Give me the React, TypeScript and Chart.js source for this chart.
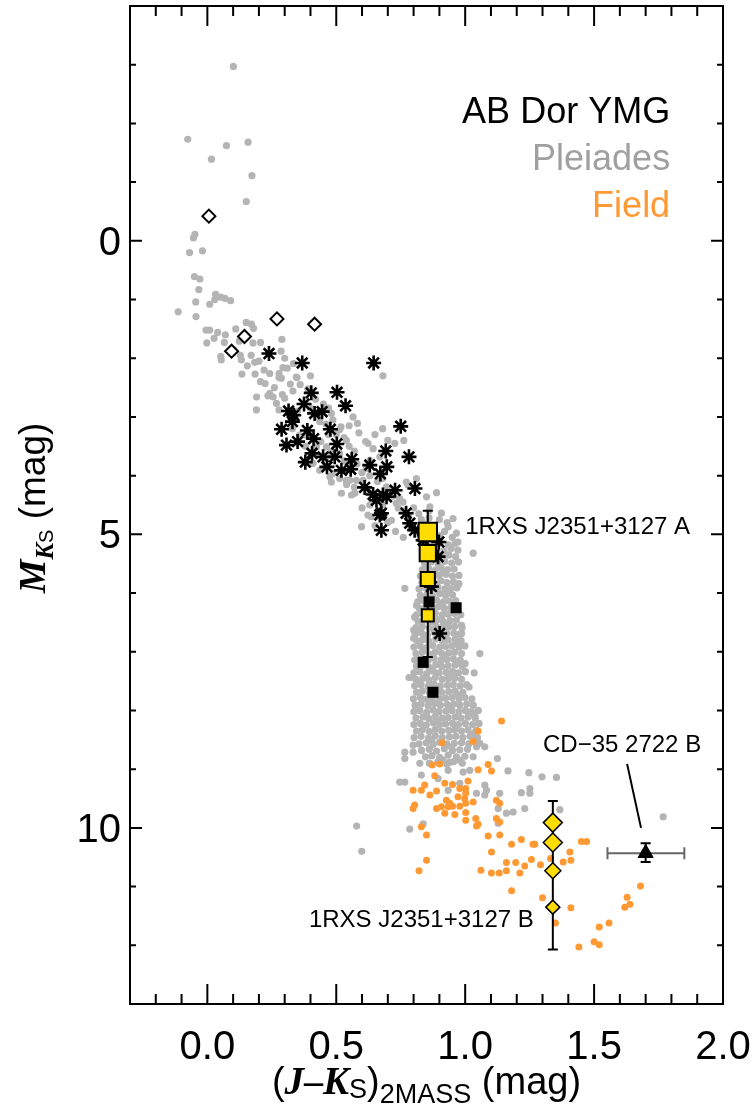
import React, { useEffect, useRef } from "react";
import { Chart, registerables } from "chart.js";

Chart.register(...registerables);

// ---- axes ----
const xRange = [-0.3, 2.0];
const yRange = [-4, 13];
const xMajor = [0, 0.5, 1.0, 1.5, 2.0];
const xMajorLabels = ["0.0", "0.5", "1.0", "1.5", "2.0"];
const xMinor = [-0.2, -0.1, 0.1, 0.2, 0.3, 0.4, 0.6, 0.7, 0.8, 0.9, 1.1, 1.2, 1.3, 1.4, 1.6, 1.7, 1.8, 1.9];
const yMajor = [0, 5, 10];
const yMajorLabels = ["0", "5", "10"];
const yMinor = [-3, -2, -1, 1, 2, 3, 4, 6, 7, 8, 9, 11, 12];

// ---- legend ----
const legendLabels = ["AB Dor YMG", "Pleiades", "Field"];
const legendColors = ["#000000", "#a0a0a0", "#ff9933"];
const legendMK = [-2.0, -1.2, -0.4];
const legendJK = 1.795;

// ---- Pleiades (J-Ks, M_Ks) ----
const pleiadesSparse: number[][] = [
  [0.101, -2.97], [-0.076, -1.73], [0.074, -1.62], [0.158, -1.68], [0.016, -1.39], [0.173, -1.11], [0.151, -0.67],
  [-0.048, -0.11], [-0.054, -0.05], [-0.069, 0.2], [-0.019, 0.17], [-0.05, 0.61], [-0.029, 0.65], [-0.033, 0.83],
  [-0.113, 1.21], [-0.045, 1.04], [-0.044, 1.29], [0.009, 1.08], [0.032, 0.91], [0.029, 1.0], [0.052, 0.96],
  [0.068, 0.98], [0.09, 1.02], [-0.005, 1.52], [0.009, 1.52], [0.04, 1.56], [0.026, 1.66], [-0.002, 1.74],
  [0.066, 1.73], [0.124, 1.71], [0.151, 1.39], [0.171, 1.42], [0.179, 1.49], [0.177, 1.74], [0.206, 1.73],
  [0.289, 1.68], [0.286, 1.88], [0.052, 1.97], [0.054, 2.03], [0.128, 1.95], [0.132, 2.03], [0.155, 2.13],
  [0.184, 2.07], [0.134, 2.27], [0.185, 2.27], [0.206, 2.4], [0.224, 2.43], [0.242, 2.26], [0.278, 2.26],
  [0.278, 2.33], [0.293, 2.16], [0.31, 2.17], [0.334, 2.09], [0.348, 2.33], [0.322, 2.44], [0.332, 2.56],
  [0.242, 2.6], [0.255, 2.66], [0.235, 2.64], [0.191, 2.66], [0.19, 2.88], [0.291, 2.62], [0.3, 2.68],
  [0.268, 2.77], [0.278, 2.88], [0.287, 2.34], [0.345, 2.32], [0.681, 2.3], [0.582, 3.11], [0.588, 3.27],
  [0.614, 3.42], [0.623, 3.45], [0.643, 3.54], [0.727, 3.45], [0.762, 3.4], [0.518, 3.17], [0.487, 3.05],
  [0.436, 3.08], [0.384, 3.31], [0.358, 3.31], [0.423, 3.51], [0.462, 3.51], [0.513, 3.62], [0.487, 3.96],
  [0.513, 4.05], [0.552, 4.08], [0.578, 4.08], [0.604, 4.08], [0.772, 4.11], [0.811, 4.05], [0.52, 4.3],
  [0.559, 4.33], [0.695, 4.19], [0.85, 4.36], [0.889, 4.29], [0.481, 2.94], [0.565, 3.0], [0.669, 3.68],
  [0.475, 4.02], [0.572, 4.3], [0.598, 4.87], [0.623, 4.67], [0.636, 4.7], [0.733, 4.47], [0.759, 4.45],
  [0.778, 4.16], [0.863, 4.53], [0.908, 4.64], [0.953, 4.73], [0.934, 4.87], [0.966, 4.98], [0.972, 5.13],
  [1.031, 5.32], [0.714, 4.76], [0.539, 4.08], [0.436, 3.91], [0.41, 3.79], [0.617, 3.88], [0.63, 3.74],
  [0.539, 3.4], [0.513, 3.22], [0.481, 4.11], [0.746, 4.39], [0.88, 4.95], [0.93, 4.8], [0.9, 5.02],
  [0.86, 4.6], [0.83, 4.75], [0.95, 5.05], [0.766, 5.92], [0.811, 6.21], [0.804, 6.41], [0.986, 6.69],
  [1.057, 7.03], [1.035, 7.36], [0.782, 7.44], [0.797, 7.44], [0.976, 5.84], [0.986, 6.55], [1.037, 8.08],
  [1.044, 8.34], [0.8, 6.63], [0.8, 6.77], [1.0, 7.2], [1.015, 7.6],
  [0.36, 2.45], [0.39, 2.52], [0.42, 2.7], [0.45, 2.78], [0.47, 2.85], [0.4, 2.85], [0.43, 3.0], [0.46, 3.12],
  [0.5, 3.3], [0.53, 3.35], [0.55, 3.5], [0.57, 3.58], [0.47, 3.3], [0.44, 3.42], [0.48, 3.6], [0.53, 3.75],
  [0.58, 3.8], [0.6, 3.95], [0.63, 4.0], [0.66, 4.1], [0.68, 4.05], [0.7, 4.25], [0.72, 4.35], [0.74, 4.55],
  [0.76, 4.6], [0.78, 4.7], [0.8, 4.55], [0.82, 4.65], [0.84, 4.82], [0.86, 4.72], [0.88, 4.85], [0.9, 4.75],
  [0.92, 4.95], [0.79, 4.9], [0.82, 5.0], [0.6, 4.55], [0.63, 4.5], [0.65, 4.85], [0.7, 4.8], [0.73, 4.95],
  [0.76, 5.05], [0.57, 4.2], [0.54, 4.15], [0.62, 4.25], [0.68, 4.5], [0.35, 2.9], [0.33, 3.2], [0.38, 3.5],
  [0.41, 3.6], [0.26, 2.5], [0.22, 2.2], [0.17, 1.95], [0.1, 1.85], [0.07, 1.6], [0.11, 1.5], [0.2, 2.05],
  [0.3, 2.0], [0.4, 2.3], [0.55, 3.15], [0.65, 3.3], [0.7, 3.4], [0.68, 3.2],
  [0.766, 8.71], [0.798, 8.71], [0.766, 8.82], [0.798, 8.59], [0.824, 8.9], [0.863, 8.9], [0.83, 9.1],
  [0.746, 9.22], [0.766, 9.22], [0.934, 9.02], [0.895, 9.16], [0.94, 8.88], [0.979, 8.85], [0.992, 9.05],
  [1.018, 9.02], [0.934, 9.36], [0.979, 9.24], [1.044, 8.62], [1.057, 8.56], [1.076, 8.62], [1.031, 8.79],
  [1.044, 9.41], [1.076, 9.27], [1.083, 9.36], [1.076, 9.44], [1.125, 8.82], [1.166, 9.03], [1.247, 9.06],
  [1.298, 9.13], [1.354, 9.14], [1.218, 9.4], [1.251, 9.33], [1.251, 9.41], [1.134, 9.41], [1.128, 9.67],
  [1.128, 9.92], [1.16, 9.75], [1.186, 9.73], [1.231, 9.67], [1.367, 9.69], [0.785, 10.02], [0.837, 9.93],
  [1.768, 9.81], [0.579, 9.97], [0.599, 10.4],
];

const pleiadesBand: number[][] = [
  [0.872, 5.16], [0.903, 5.14], [0.935, 5.18], [0.962, 5.15],
  [0.861, 5.27], [0.889, 5.25], [0.918, 5.28], [0.946, 5.24], [0.972, 5.27],
  [0.852, 5.38], [0.881, 5.36], [0.909, 5.39], [0.937, 5.35], [0.963, 5.38],
  [0.842, 5.49], [0.868, 5.47], [0.895, 5.5], [0.921, 5.46], [0.948, 5.49], [0.974, 5.47],
  [0.834, 5.6], [0.858, 5.58], [0.884, 5.61], [0.907, 5.57], [0.932, 5.6], [0.957, 5.59],
  [0.826, 5.71], [0.851, 5.69], [0.877, 5.72], [0.899, 5.7], [0.926, 5.68], [0.951, 5.71], [0.976, 5.7],
  [0.832, 5.82], [0.857, 5.8], [0.881, 5.83], [0.906, 5.79], [0.929, 5.82], [0.955, 5.81],
  [0.821, 5.93], [0.846, 5.91], [0.871, 5.94], [0.894, 5.9], [0.921, 5.93], [0.944, 5.92], [0.968, 5.91],
  [0.826, 6.04], [0.852, 6.02], [0.874, 6.05], [0.901, 6.01], [0.924, 6.04], [0.951, 6.03],
  [0.816, 6.15], [0.841, 6.13], [0.866, 6.16], [0.889, 6.12], [0.916, 6.15], [0.939, 6.14], [0.963, 6.13],
  [0.822, 6.26], [0.846, 6.24], [0.871, 6.27], [0.896, 6.23], [0.919, 6.26], [0.944, 6.25], [0.969, 6.24],
  [0.811, 6.37], [0.836, 6.35], [0.859, 6.38], [0.884, 6.34], [0.911, 6.37], [0.934, 6.36], [0.958, 6.35], [0.983, 6.37],
  [0.817, 6.48], [0.842, 6.46], [0.864, 6.49], [0.891, 6.45], [0.914, 6.48], [0.941, 6.47], [0.966, 6.46],
  [0.809, 6.59], [0.834, 6.57], [0.861, 6.6], [0.886, 6.56], [0.909, 6.59], [0.936, 6.58], [0.959, 6.57], [0.988, 6.59],
  [0.806, 6.7], [0.831, 6.68], [0.854, 6.71], [0.881, 6.67], [0.904, 6.7], [0.929, 6.69], [0.956, 6.68], [0.979, 6.7],
  [0.812, 6.81], [0.836, 6.79], [0.859, 6.82], [0.886, 6.78], [0.911, 6.81], [0.934, 6.8], [0.961, 6.79], [0.984, 6.81],
  [0.801, 6.92], [0.826, 6.9], [0.851, 6.93], [0.874, 6.89], [0.901, 6.92], [0.924, 6.91], [0.949, 6.9], [0.976, 6.92], [0.999, 6.9],
  [0.809, 7.03], [0.834, 7.01], [0.861, 7.04], [0.884, 7.0], [0.909, 7.03], [0.936, 7.02], [0.959, 7.01], [0.986, 7.03],
  [0.804, 7.14], [0.829, 7.12], [0.856, 7.15], [0.879, 7.11], [0.906, 7.14], [0.929, 7.13], [0.954, 7.12], [0.981, 7.14],
  [0.811, 7.25], [0.836, 7.23], [0.859, 7.26], [0.886, 7.22], [0.909, 7.25], [0.934, 7.24], [0.961, 7.23], [0.989, 7.25],
  [0.801, 7.36], [0.824, 7.34], [0.851, 7.37], [0.876, 7.33], [0.899, 7.36], [0.926, 7.35], [0.951, 7.34], [0.974, 7.36], [1.001, 7.34],
  [0.809, 7.47], [0.836, 7.45], [0.859, 7.48], [0.884, 7.44], [0.911, 7.47], [0.934, 7.46], [0.959, 7.45], [0.986, 7.47],
  [0.804, 7.58], [0.829, 7.56], [0.856, 7.59], [0.879, 7.55], [0.904, 7.58], [0.931, 7.57], [0.954, 7.56], [0.981, 7.58], [1.006, 7.56],
  [0.811, 7.69], [0.834, 7.67], [0.861, 7.7], [0.886, 7.66], [0.909, 7.69], [0.936, 7.68], [0.961, 7.67], [0.991, 7.69],
  [0.799, 7.8], [0.826, 7.78], [0.849, 7.81], [0.874, 7.77], [0.901, 7.8], [0.924, 7.79], [0.949, 7.78], [0.976, 7.8], [0.999, 7.78], [1.026, 7.8],
  [0.806, 7.91], [0.829, 7.89], [0.856, 7.92], [0.881, 7.88], [0.904, 7.91], [0.931, 7.9], [0.956, 7.89], [0.979, 7.91], [1.006, 7.89], [1.031, 7.91],
  [0.801, 8.02], [0.824, 8.0], [0.851, 8.03], [0.876, 7.99], [0.899, 8.02], [0.926, 8.01], [0.949, 8.0], [0.976, 8.02], [1.001, 8.0], [1.024, 8.02], [1.051, 8.0],
  [0.809, 8.13], [0.836, 8.11], [0.859, 8.14], [0.884, 8.1], [0.911, 8.13], [0.934, 8.12], [0.961, 8.11], [0.984, 8.13], [1.011, 8.11], [1.039, 8.13],
  [0.801, 8.24], [0.826, 8.22], [0.849, 8.25], [0.876, 8.21], [0.901, 8.24], [0.924, 8.23], [0.951, 8.22], [0.974, 8.24], [1.001, 8.22], [1.029, 8.24], [1.054, 8.22],
  [0.811, 8.35], [0.834, 8.33], [0.861, 8.36], [0.884, 8.32], [0.909, 8.35], [0.936, 8.34], [0.959, 8.33], [0.986, 8.35], [1.011, 8.33], [1.041, 8.35],
  [0.802, 8.46], [0.829, 8.44], [0.858, 8.47], [0.884, 8.43], [0.911, 8.46], [0.939, 8.45], [0.964, 8.44], [0.991, 8.46], [1.019, 8.44], [1.048, 8.46],
  [0.821, 8.57], [0.849, 8.55], [0.876, 8.58], [0.901, 8.54], [0.929, 8.57], [0.958, 8.56], [0.986, 8.55], [1.014, 8.57],
  [0.831, 8.68], [0.861, 8.66], [0.889, 8.69], [0.919, 8.65], [0.951, 8.68], [0.979, 8.67], [1.009, 8.66],
  [0.846, 8.79], [0.871, 8.77], [0.901, 8.8], [0.934, 8.76], [0.966, 8.79], [0.999, 8.78],
  [0.861, 8.9], [0.894, 8.88], [0.929, 8.91], [0.956, 8.87], [0.989, 8.9],
  [0.847, 5.54], [0.915, 5.65], [0.868, 5.87], [0.938, 5.98], [0.829, 6.09], [0.905, 6.2], [0.953, 6.31],
  [0.851, 6.42], [0.926, 6.53], [0.819, 6.64], [0.894, 6.75], [0.971, 6.86], [0.838, 6.97], [0.918, 7.08],
  [0.966, 7.19], [0.872, 7.3], [0.944, 7.41], [0.823, 7.52], [0.896, 7.63], [0.971, 7.74], [0.864, 7.85],
  [0.941, 7.96], [1.014, 8.07], [0.889, 8.18], [0.964, 8.29], [1.031, 8.4], [0.871, 8.51], [0.946, 8.62],
  [0.914, 8.84], [1.041, 8.51],
];

// ---- Field dwarfs ----
const field: number[][] = [
  [1.141, 8.18], [1.05, 8.35], [1.031, 8.53], [0.91, 8.55], [1.089, 8.92], [1.102, 9.03], [1.05, 9.01],
  [0.872, 8.93], [0.901, 8.91], [0.882, 9.11], [1.011, 9.2], [0.921, 9.24], [0.951, 9.26], [0.979, 9.33],
  [1.002, 9.33], [1.002, 9.41], [0.843, 9.27], [0.83, 9.36], [0.798, 9.36], [0.889, 9.37], [0.863, 9.44],
  [0.972, 9.47], [0.998, 9.5], [1.002, 9.58], [0.927, 9.53], [0.94, 9.58], [0.934, 9.64], [1.031, 9.56],
  [0.804, 9.61], [0.798, 9.67], [0.908, 9.64], [0.889, 9.67], [0.951, 9.63], [0.979, 9.63], [0.921, 9.75],
  [0.96, 9.77], [1.002, 9.74], [1.002, 9.87], [1.041, 9.84], [1.05, 9.94], [1.044, 9.97], [1.121, 9.53],
  [1.134, 9.58], [1.121, 9.84], [1.134, 9.9], [0.83, 9.98], [0.85, 10.12], [1.089, 10.14], [1.134, 10.12],
  [1.18, 10.28], [1.218, 10.2], [1.263, 10.28], [1.27, 10.28], [0.85, 10.55], [0.821, 10.73], [1.061, 10.72],
  [1.102, 10.77], [1.132, 10.77], [1.16, 10.73], [1.16, 10.59], [1.196, 10.59], [1.212, 10.77], [1.231, 10.65],
  [1.257, 10.54], [1.292, 10.63], [1.331, 10.52], [1.38, 10.58], [1.41, 10.55], [1.406, 10.41], [1.102, 10.41],
  [1.18, 11.07], [1.3, 11.19], [1.41, 11.36], [1.35, 11.62], [1.441, 12.03], [1.5, 11.94], [1.52, 11.99],
  [1.52, 11.69], [1.558, 11.62], [1.619, 11.35], [1.639, 11.3], [1.628, 11.18], [1.68, 10.99], [1.451, 10.23],
  [1.471, 10.23],
];

// ---- AB Dor members ----
const abDorStars: number[][] = [
  [0.239, 1.92], [0.368, 2.08], [0.645, 2.08], [0.403, 2.59], [0.503, 2.58], [0.536, 2.81], [0.375, 2.78],
  [0.315, 2.9], [0.445, 2.91], [0.75, 3.16], [0.288, 3.21], [0.388, 3.23], [0.477, 3.21], [0.33, 3.08],
  [0.335, 2.97], [0.416, 2.94], [0.307, 3.48], [0.35, 3.42], [0.412, 3.37], [0.502, 3.46], [0.692, 3.58],
  [0.782, 3.68], [0.406, 3.62], [0.38, 3.77], [0.449, 3.68], [0.464, 3.85], [0.494, 3.68], [0.56, 3.72],
  [0.52, 3.91], [0.556, 3.89], [0.63, 3.82], [0.696, 3.85], [0.671, 3.97], [0.61, 4.2], [0.728, 4.25],
  [0.805, 4.22], [0.643, 4.32], [0.656, 4.42], [0.681, 4.33], [0.695, 4.36], [0.669, 4.67], [0.675, 4.64],
  [0.771, 4.64], [0.785, 4.81], [0.675, 4.93], [0.804, 4.93], [0.837, 5.1], [0.898, 5.13], [0.895, 5.38],
  [0.869, 5.89], [0.901, 6.69],
];
const abDorOpen: number[][] = [[0.006, -0.42], [0.27, 1.33], [0.416, 1.42], [0.144, 1.63], [0.094, 1.88]];
const abDorSquares: number[][] = [[0.86, 6.15], [0.965, 6.25], [0.837, 7.18], [0.875, 7.69]];

// ---- 1RXS J2351+3127 A (yellow squares) ----
const compAJK = 0.855;
const compAMK = [4.96, 5.32, 5.76, 6.38];
const compAErr = [4.6, 7.09];
// ---- 1RXS J2351+3127 B (yellow diamonds) ----
const compBJK = 1.34;
const compBMK = [9.91, 10.25, 10.73, 11.35];
const compBErr = [9.54, 12.07];
// ---- CD-35 2722 B ----
const cdJK = 1.7;
const cdMK = 10.43;
const cdJKErr = [1.552, 1.85];
const cdMKErr = [10.26, 10.58];
const cdLeader = [[1.628, 8.91], [1.682, 10.0]];

// ---- annotations ----
const labelA = { text: "1RXS J2351+3127 A", jk: 1.0, mk: 5.0 };
const labelCD = { text: "CD\u221235 2722 B", jk: 1.302, mk: 8.71 };
const labelB = { text: "1RXS J2351+3127 B", jk: 1.266, mk: 11.69 };

const toXY = (arr: number[][]) => arr.map(([x, y]) => ({ x, y }));

const SANS = '"Liberation Sans", Arial, Helvetica, sans-serif';
const SERIF = '"Liberation Serif", "Times New Roman", serif';

type Seg = { text: string; font: string; dy?: number };

function drawSegs(ctx: CanvasRenderingContext2D, segs: Seg[], cx: number, by: number) {
  let total = 0;
  const widths = segs.map((s) => {
    ctx.font = s.font;
    const w = ctx.measureText(s.text).width;
    total += w;
    return w;
  });
  let x = cx - total / 2;
  ctx.textAlign = "left";
  ctx.textBaseline = "alphabetic";
  segs.forEach((s, i) => {
    ctx.font = s.font;
    ctx.fillText(s.text, x, by + (s.dy || 0));
    x += widths[i];
  });
}

function vBar(ctx: CanvasRenderingContext2D, x: number, y1: number, y2: number, cap: number, color: string, lw: number) {
  ctx.strokeStyle = color;
  ctx.lineWidth = lw;
  ctx.beginPath();
  ctx.moveTo(x, y1);
  ctx.lineTo(x, y2);
  ctx.moveTo(x - cap, y1);
  ctx.lineTo(x + cap, y1);
  ctx.moveTo(x - cap, y2);
  ctx.lineTo(x + cap, y2);
  ctx.stroke();
}
function hBar(ctx: CanvasRenderingContext2D, y: number, x1: number, x2: number, cap: number, color: string, lw: number) {
  ctx.strokeStyle = color;
  ctx.lineWidth = lw;
  ctx.beginPath();
  ctx.moveTo(x1, y);
  ctx.lineTo(x2, y);
  ctx.moveTo(x1, y - cap);
  ctx.lineTo(x1, y + cap);
  ctx.moveTo(x2, y - cap);
  ctx.lineTo(x2, y + cap);
  ctx.stroke();
}

const decorPlugin = {
  id: "decor",
  afterDatasetDraw(chart: any, args: any) {
    if (chart.data.datasets[args.index].label !== "Field") return;
    const ctx: CanvasRenderingContext2D = chart.ctx;
    const xs = chart.scales.x;
    const ys = chart.scales.y;
    ctx.save();
    vBar(ctx, xs.getPixelForValue(compAJK), ys.getPixelForValue(compAErr[0]), ys.getPixelForValue(compAErr[1]), 5, "#000", 2);
    vBar(ctx, xs.getPixelForValue(compBJK), ys.getPixelForValue(compBErr[0]), ys.getPixelForValue(compBErr[1]), 5, "#000", 2);
    hBar(ctx, ys.getPixelForValue(cdMK), xs.getPixelForValue(cdJKErr[0]), xs.getPixelForValue(cdJKErr[1]), 6, "#666", 2);
    vBar(ctx, xs.getPixelForValue(cdJK), ys.getPixelForValue(cdMKErr[0]), ys.getPixelForValue(cdMKErr[1]), 5, "#000", 2);
    ctx.restore();
  },
  afterDraw(chart: any) {
    const ctx: CanvasRenderingContext2D = chart.ctx;
    const xs = chart.scales.x;
    const ys = chart.scales.y;
    const { left, right, top, bottom } = chart.chartArea;
    ctx.save();
    // frame
    ctx.strokeStyle = "#000";
    ctx.lineWidth = 2;
    ctx.strokeRect(left, top, right - left, bottom - top);
    ctx.beginPath();
    xMajor.forEach((v) => {
      const p = xs.getPixelForValue(v);
      ctx.moveTo(p, bottom); ctx.lineTo(p, bottom - 20);
      ctx.moveTo(p, top); ctx.lineTo(p, top + 20);
    });
    xMinor.forEach((v) => {
      const p = xs.getPixelForValue(v);
      ctx.moveTo(p, bottom); ctx.lineTo(p, bottom - 10);
      ctx.moveTo(p, top); ctx.lineTo(p, top + 10);
    });
    yMajor.forEach((v) => {
      const p = ys.getPixelForValue(v);
      ctx.moveTo(left, p); ctx.lineTo(left + 12, p);
      ctx.moveTo(right, p); ctx.lineTo(right - 12, p);
    });
    yMinor.forEach((v) => {
      const p = ys.getPixelForValue(v);
      ctx.moveTo(left, p); ctx.lineTo(left + 6, p);
      ctx.moveTo(right, p); ctx.lineTo(right - 6, p);
    });
    ctx.stroke();

    // tick labels
    ctx.fillStyle = "#000";
    ctx.font = `40px ${SANS}`;
    ctx.textAlign = "center";
    ctx.textBaseline = "alphabetic";
    xMajor.forEach((v, i) => ctx.fillText(xMajorLabels[i], xs.getPixelForValue(v), 1059));
    ctx.textAlign = "right";
    yMajor.forEach((v, i) => ctx.fillText(yMajorLabels[i], left - 9, ys.getPixelForValue(v) + 14));

    // x title
    drawSegs(ctx, [
      { text: "(", font: `38px ${SANS}` },
      { text: "J", font: `bold italic 39px ${SERIF}` },
      { text: "\u2013", font: `bold 38px ${SERIF}` },
      { text: "K", font: `bold italic 39px ${SERIF}` },
      { text: "S", font: `27px ${SANS}`, dy: 4 },
      { text: ")", font: `38px ${SANS}` },
      { text: "2MASS", font: `27px ${SANS}`, dy: 9 },
      { text: " (mag)", font: `38px ${SANS}` },
    ], (left + right) / 2, 1094);

    // y title
    ctx.save();
    ctx.translate(45, (top + bottom) / 2 + 3);
    ctx.rotate(-Math.PI / 2);
    drawSegs(ctx, [
      { text: "M", font: `bold italic 38px ${SERIF}` },
      { text: "K", font: `bold italic 25px ${SERIF}`, dy: 8 },
      { text: "S", font: `20px ${SANS}`, dy: 8 },
      { text: " (mag)", font: `37px ${SANS}` },
    ], 0, 0);
    ctx.restore();

    // legend
    ctx.font = `36px ${SANS}`;
    ctx.textAlign = "right";
    legendLabels.forEach((t, i) => {
      ctx.fillStyle = legendColors[i];
      ctx.fillText(t, xs.getPixelForValue(legendJK), ys.getPixelForValue(legendMK[i]));
    });

    // annotations
    ctx.fillStyle = "#000";
    ctx.font = `24px ${SANS}`;
    ctx.textAlign = "left";
    ctx.fillText(labelA.text, xs.getPixelForValue(labelA.jk), ys.getPixelForValue(labelA.mk));
    ctx.fillText(labelCD.text, xs.getPixelForValue(labelCD.jk), ys.getPixelForValue(labelCD.mk));
    ctx.textAlign = "right";
    ctx.fillText(labelB.text, xs.getPixelForValue(labelB.jk), ys.getPixelForValue(labelB.mk));

    // leader line
    ctx.strokeStyle = "#000";
    ctx.lineWidth = 2;
    ctx.beginPath();
    ctx.moveTo(xs.getPixelForValue(cdLeader[0][0]), ys.getPixelForValue(cdLeader[0][1]));
    ctx.lineTo(xs.getPixelForValue(cdLeader[1][0]), ys.getPixelForValue(cdLeader[1][1]));
    ctx.stroke();
    ctx.restore();
  },
};

export default function App() {
  const ref = useRef<HTMLCanvasElement | null>(null);
  useEffect(() => {
    if (!ref.current) return;
    const yellow = "#ffdd00";
    const chart = new Chart(ref.current, {
      type: "scatter",
      data: {
        datasets: [
          {
            label: "Pleiades",
            data: toXY([...pleiadesSparse, ...pleiadesBand]),
            backgroundColor: "#b4b4b4",
            borderWidth: 0,
            pointRadius: 3.6,
            order: 10,
          },
          {
            label: "Field",
            data: toXY(field),
            backgroundColor: "#ff9933",
            borderWidth: 0,
            pointRadius: 3.5,
            order: 9,
          },
          {
            label: "AB Dor stars",
            data: toXY(abDorStars),
            pointStyle: "star",
            pointRadius: 7.5,
            borderColor: "#000",
            borderWidth: 2.6,
            backgroundColor: "#000",
            order: 8,
          },
          {
            label: "AB Dor open",
            data: toXY(abDorOpen),
            pointStyle: "rectRot",
            pointRadius: 6.5,
            borderColor: "#000",
            borderWidth: 2,
            backgroundColor: "#fff",
            order: 7,
          },
          {
            label: "AB Dor squares",
            data: toXY(abDorSquares),
            pointStyle: "rect",
            pointRadius: 7.8,
            borderColor: "#000",
            borderWidth: 0,
            backgroundColor: "#000",
            order: 6,
          },
          {
            label: "CD-35 2722 B",
            data: [{ x: cdJK, y: cdMK }],
            pointStyle: "triangle",
            pointRadius: 8.7,
            borderColor: "#000",
            borderWidth: 1,
            backgroundColor: "#000",
            order: 5,
          },
          {
            label: "1RXS J2351+3127 A",
            data: compAMK.map((y) => ({ x: compAJK, y })),
            pointStyle: "rect",
            pointRadius: [13, 11.5, 10, 8.5],
            borderColor: "#000",
            borderWidth: 2,
            backgroundColor: yellow,
            order: 2,
          },
          {
            label: "1RXS J2351+3127 B",
            data: compBMK.map((y) => ({ x: compBJK, y })),
            pointStyle: "rectRot",
            pointRadius: [9.5, 9.5, 8, 7],
            borderColor: "#000",
            borderWidth: 1.5,
            backgroundColor: yellow,
            order: 1,
          },
        ],
      },
      options: {
        animation: false,
        responsive: false,
        devicePixelRatio: 1,
        layout: { autoPadding: false, padding: { left: 130, right: 31, top: 6, bottom: 108 } },
        scales: {
          x: { type: "linear", min: xRange[0], max: xRange[1], display: false },
          y: { type: "linear", min: yRange[0], max: yRange[1], reverse: true, display: false },
        },
        plugins: { legend: { display: false }, tooltip: { enabled: false } },
      },
      plugins: [decorPlugin],
    });
    return () => chart.destroy();
  }, []);
  return (
    <div style={{ position: "fixed", left: 0, top: 0, width: 754, height: 1112, background: "#fff" }}>
      <canvas ref={ref} width={754} height={1112} style={{ display: "block" }} />
    </div>
  );
}
